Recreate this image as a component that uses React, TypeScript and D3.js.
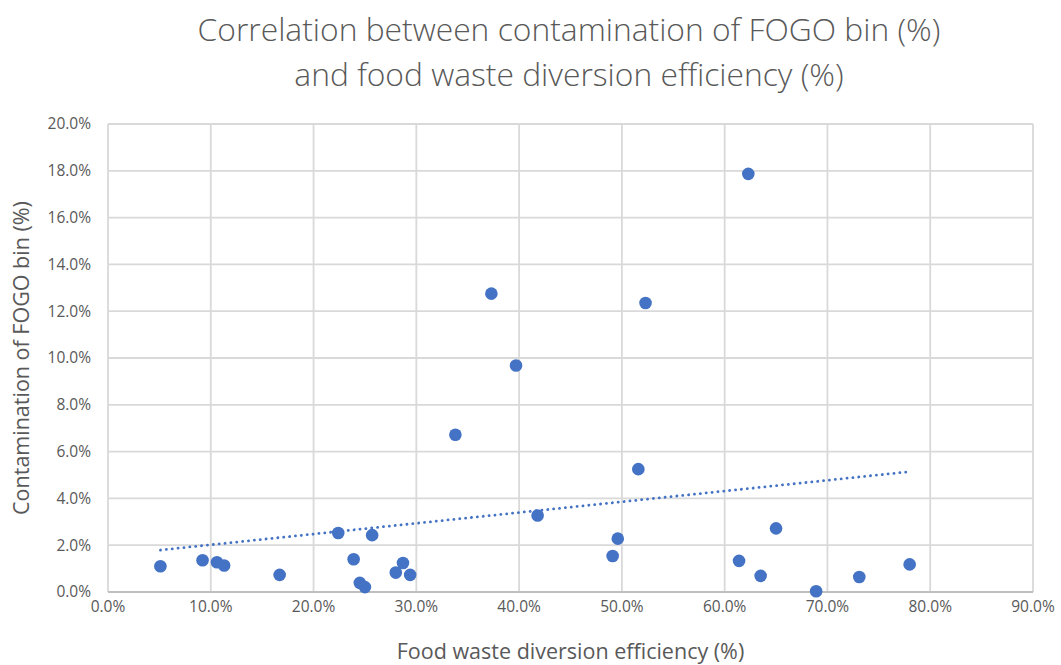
import React, { useRef, useEffect } from 'react';
import * as d3 from 'd3';

// Food waste diversion efficiency (%) per council
const efficiency = [
  5.1, 9.2, 10.6, 11.3, 16.7, 22.4, 23.9, 24.5, 25.0, 25.7, 28.0, 28.7, 29.4, 33.8,
  37.3, 39.7, 41.8, 49.1, 49.6, 51.6, 52.3, 61.4, 62.3, 63.5, 65.0, 68.9, 73.1, 78.0,
];
// Contamination of FOGO bin (%)
const contamination = [
  1.1, 1.36, 1.27, 1.13, 0.73, 2.52, 1.4, 0.39, 0.21, 2.43, 0.83, 1.24, 0.73, 6.72,
  12.75, 9.68, 3.27, 1.54, 2.28, 5.25, 12.35, 1.33, 17.87, 0.69, 2.72, 0.03, 0.64, 1.18,
];
const xTicks = [0, 10, 20, 30, 40, 50, 60, 70, 80, 90];
const yTicks = [0, 2, 4, 6, 8, 10, 12, 14, 16, 18, 20];
const titleLines = [
  'Correlation between contamination of FOGO bin (%)',
  'and food waste diversion efficiency (%)',
];

const W = 1061;
const H = 665;

const App = () => {
  const svgRef = useRef<SVGSVGElement>(null);

  useEffect(() => {
    if (!svgRef.current) return;
    const svg = d3.select(svgRef.current);
    svg.selectAll('*').remove();

    const margin = { top: 124, right: 28, bottom: 73, left: 108 };
    const x = d3.scaleLinear().domain([0, 90]).range([margin.left, W - margin.right]);
    const y = d3.scaleLinear().domain([0, 20]).range([H - margin.bottom, margin.top]);
    const textColor = '#595959';
    const font = "'Open Sans', sans-serif";

    // gridlines
    svg.append('g')
      .selectAll('line')
      .data(yTicks)
      .enter()
      .append('line')
      .attr('x1', x(0))
      .attr('x2', x(90))
      .attr('y1', d => y(d))
      .attr('y2', d => y(d))
      .attr('stroke', '#d9d9d9')
      .attr('stroke-width', 1.8);

    svg.append('g')
      .selectAll('line')
      .data(xTicks)
      .enter()
      .append('line')
      .attr('x1', d => x(d))
      .attr('x2', d => x(d))
      .attr('y1', y(0))
      .attr('y2', y(20))
      .attr('stroke', '#d9d9d9')
      .attr('stroke-width', 1.8);

    // bottom axis line
    svg.append('line')
      .attr('x1', x(0))
      .attr('x2', x(90))
      .attr('y1', y(0))
      .attr('y2', y(0))
      .attr('stroke', '#bfbfbf')
      .attr('stroke-width', 1.8);

    // tick labels
    svg.append('g')
      .selectAll('text')
      .data(yTicks)
      .enter()
      .append('text')
      .attr('x', x(0) - 17)
      .attr('y', d => y(d))
      .attr('dy', '0.35em')
      .attr('text-anchor', 'end')
      .attr('fill', textColor)
      .attr('font-family', font)
      .attr('font-size', 15.5)
      .text(d => d.toFixed(1) + '%');

    svg.append('g')
      .selectAll('text')
      .data(xTicks)
      .enter()
      .append('text')
      .attr('x', d => x(d))
      .attr('y', y(0) + 20)
      .attr('text-anchor', 'middle')
      .attr('fill', textColor)
      .attr('font-family', font)
      .attr('font-size', 15.5)
      .text(d => d.toFixed(1) + '%');

    // axis titles
    svg.append('text')
      .attr('x', (x(0) + x(90)) / 2)
      .attr('y', 659)
      .attr('text-anchor', 'middle')
      .attr('fill', textColor)
      .attr('font-family', font)
      .attr('font-size', 21.5)
      .text('Food waste diversion efficiency (%)');

    svg.append('text')
      .attr('transform', `translate(29, ${(y(0) + y(20)) / 2}) rotate(-90)`)
      .attr('text-anchor', 'middle')
      .attr('fill', textColor)
      .attr('font-family', font)
      .attr('font-size', 21.5)
      .text('Contamination of FOGO bin (%)');

    // title
    svg.append('g')
      .selectAll('text')
      .data(titleLines)
      .enter()
      .append('text')
      .attr('x', 569)
      .attr('y', (d, i) => 41 + i * 45)
      .attr('text-anchor', 'middle')
      .attr('fill', textColor)
      .attr('font-family', font)
      .attr('font-weight', 300)
      .attr('font-size', 31.8)
      .text(d => d);

    // linear trendline (least squares)
    const mx = d3.mean(efficiency) as number;
    const my = d3.mean(contamination) as number;
    let sxy = 0;
    let sxx = 0;
    efficiency.forEach((v, i) => {
      sxy += (v - mx) * (contamination[i] - my);
      sxx += (v - mx) * (v - mx);
    });
    const slope = sxy / sxx;
    const intercept = my - slope * mx;
    const [x0, x1] = d3.extent(efficiency) as [number, number];
    const line = d3.line<number>()
      .x(d => x(d))
      .y(d => y(intercept + slope * d));
    svg.append('path')
      .datum([x0, x1])
      .attr('d', line)
      .attr('fill', 'none')
      .attr('stroke', '#4472c4')
      .attr('stroke-width', 2.8)
      .attr('stroke-linecap', 'round')
      .attr('stroke-dasharray', '0.1,5.8');

    // points
    svg.append('g')
      .selectAll('circle')
      .data(efficiency)
      .enter()
      .append('circle')
      .attr('cx', d => x(d))
      .attr('cy', (d, i) => y(contamination[i]))
      .attr('r', 6.3)
      .attr('fill', '#4472c4');
  }, []);

  return (
    <svg
      ref={svgRef}
      width={W}
      height={H}
      style={{ position: 'absolute', left: 0, top: 0, background: '#fff' }}
    />
  );
};

export default App;
